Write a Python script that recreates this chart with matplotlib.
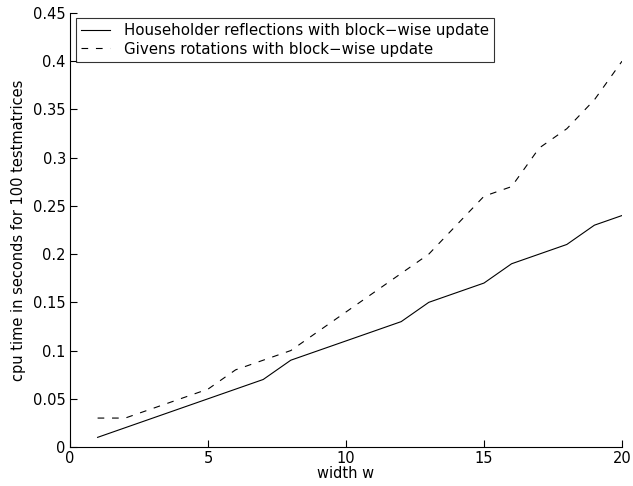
import matplotlib
matplotlib.use("Agg")
import matplotlib.pyplot as plt

plt.rcParams['font.family'] = ['DejaVu Sans']

# data
width_w = list(range(1, 21))
householder = [0.01, 0.02, 0.03, 0.04, 0.05, 0.06, 0.07, 0.09, 0.10, 0.11,
               0.12, 0.13, 0.15, 0.16, 0.17, 0.19, 0.20, 0.21, 0.23, 0.24]
givens = [0.03, 0.03, 0.04, 0.05, 0.06, 0.08, 0.09, 0.10, 0.12, 0.14,
          0.16, 0.18, 0.20, 0.23, 0.26, 0.27, 0.31, 0.33, 0.36, 0.40]

x_ticks = [0, 5, 10, 15, 20]
y_ticks = [0, 0.05, 0.1, 0.15, 0.2, 0.25, 0.3, 0.35, 0.4, 0.45]
y_labels = ['0', '0.05', '0.1', '0.15', '0.2', '0.25', '0.3', '0.35', '0.4', '0.45']

labels = ['Householder reflections with block\u2212wise update',
          'Givens rotations with block\u2212wise update']

FS = 10.5


def main():
    fig = plt.figure(figsize=(6.33, 4.86), dpi=100)
    ax = fig.add_axes([70 / 633, 39 / 486, 552 / 633, 434 / 486])

    ax.plot(width_w, householder, color='black', linewidth=0.8, linestyle='-', label=labels[0])
    ax.plot(width_w, givens, color='black', linewidth=0.8, linestyle=(0, (6, 7)), label=labels[1])

    ax.set_xlim(0, 20)
    ax.set_ylim(0, 0.45)
    ax.set_xticks(x_ticks)
    ax.set_yticks(y_ticks)
    ax.set_yticklabels(y_labels)

    ax.spines['top'].set_visible(False)
    ax.spines['right'].set_visible(False)
    for s in ('left', 'bottom'):
        ax.spines[s].set_linewidth(0.8)
    ax.tick_params(direction='in', length=5, width=0.8, labelsize=FS, pad=3)

    ax.set_xlabel('width w', fontsize=FS, labelpad=0)
    ax.set_ylabel('cpu time in seconds for 100 testmatrices', fontsize=FS, labelpad=5)

    leg = ax.legend(loc='upper left', bbox_to_anchor=(6 / 552, 429 / 434),
                    borderaxespad=0, fontsize=10.8, frameon=True, fancybox=False,
                    handlelength=1.9, handletextpad=0.95, borderpad=0.35,
                    labelspacing=0.22)
    leg.get_frame().set_edgecolor('black')
    leg.get_frame().set_linewidth(0.8)

    fig.savefig('out.png', dpi=100)


if __name__ == "__main__":
    main()
